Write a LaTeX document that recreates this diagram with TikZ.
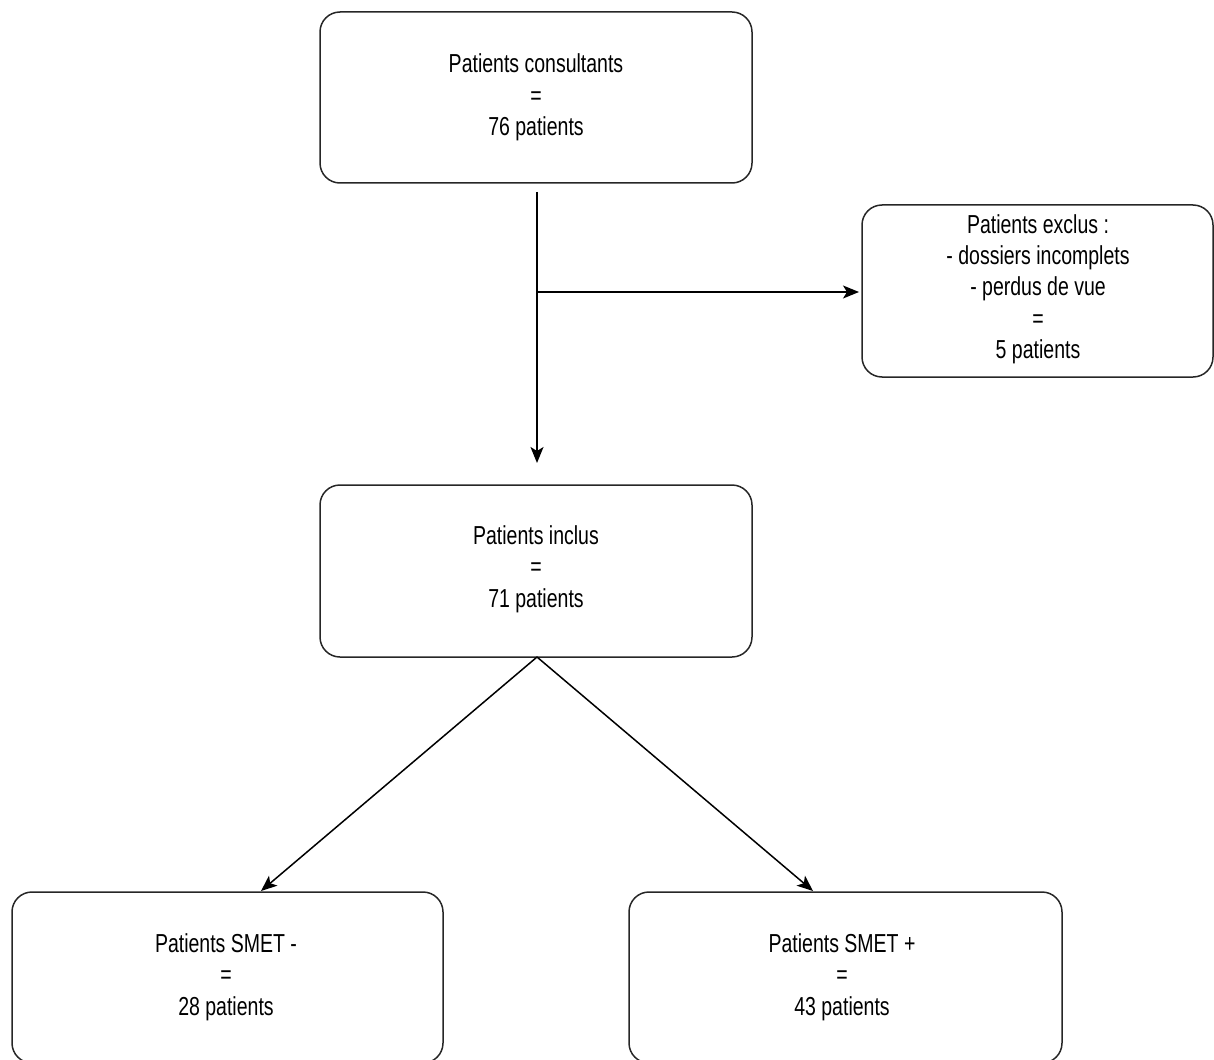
\documentclass[tikz,border=0pt]{standalone}
\usepackage{fontspec}
\setmainfont{Liberation Sans}[FakeStretch=0.75]
\usetikzlibrary{arrows.meta}
\begin{document}
\begin{tikzpicture}[x=1pt,y=-1pt,
  box/.style={draw=black!85, line width=1.5pt, rounded corners=20pt},
  lbl/.style={align=center, font=\fontsize{26}{31.3}\selectfont, inner sep=0pt},
  conn/.style={line width=1.5pt, -{Stealth[length=16pt,width=13pt,inset=4pt]}}]
\useasboundingbox (0,0) rectangle (1214,1059);
\clip (0,0) rectangle (1214,1059);
% boxes
\draw[box] (320,12) rectangle (752,183);
\node[lbl] (top) at (536,97.5) {Patients consultants\\=\\76 patients};
\draw[box] (862,205) rectangle (1213,377);
\node[lbl] (excl) at (1038,289) {Patients exclus :\\- dossiers incomplets\\- perdus de vue\\=\\5 patients};
\draw[box] (320,485) rectangle (752,657);
\node[lbl] (incl) at (536,569) {Patients inclus\\=\\71 patients};
\draw[box] (12,892) rectangle (443,1063);
\node[lbl] (neg) at (226,977) {Patients SMET -\\=\\28 patients};
\draw[box] (629,892) rectangle (1062,1063);
\node[lbl] (pos) at (842,977) {Patients SMET +\\=\\43 patients};
% anchor coordinates
\coordinate (topb) at (537,192);
\coordinate (inct) at (537,463);
\coordinate (junc) at (537,292);
\coordinate (exclw) at (859,292);
\coordinate (incb) at (537,657);
\coordinate (negt) at (261,891);
\coordinate (post) at (813,891);
% connectors
\draw[conn] (topb) -- (inct);
\draw[conn] (junc) -- (exclw);
\draw[conn] (incb) -- (negt);
\draw[conn] (incb) -- (post);
\end{tikzpicture}
\end{document}
